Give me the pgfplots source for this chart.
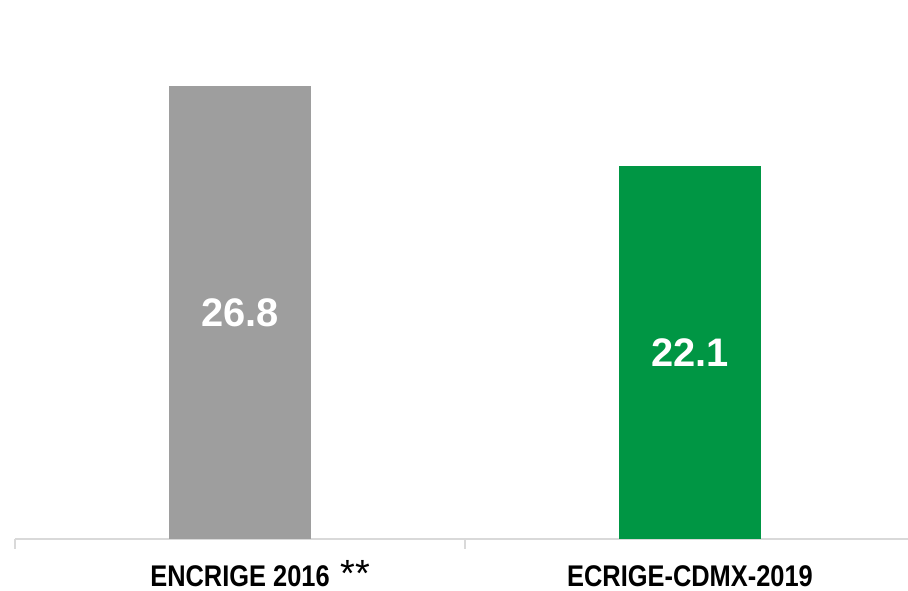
\documentclass[border=0pt]{standalone}
\usepackage{pgfplots}
\pgfplotsset{compat=1.18}
\usepackage{fontspec}
\setmainfont{Liberation Sans}
\newfontfamily\narrowfont[FakeStretch=0.85]{Liberation Sans}
\definecolor{bargray}{HTML}{9E9E9E}
\definecolor{bargreen}{HTML}{009644}
\definecolor{axisgray}{HTML}{D9D9D9}
\begin{document}
\begin{tikzpicture}[x=1bp,y=1bp]
\useasboundingbox (0,0) rectangle (908,591);
\begin{axis}[
  at={(15bp,52bp)}, anchor=south west,
  scale only axis, width=900bp, height=539bp,
  xmin=-0.5, xmax=1.5, ymin=0, ymax=31.9,
  axis x line=bottom, axis y line=none,
  axis line style={-, draw=axisgray, line width=1.2bp},
  xtick={0,1},
  xticklabels={ENCRIGE 2016\rlap{\normalfont\fontsize{38}{38}\selectfont\ *\kern1bp*}, ECRIGE-CDMX-2019},
  major tick length=0pt,
  xticklabel style={font=\narrowfont\bfseries\fontsize{30}{34}\selectfont, text=black, anchor=base, inner sep=0pt, yshift=-48bp},
  extra x ticks={-0.5,0.5,1.5},
  extra x tick labels={},
  extra x tick style={major tick length=10bp, tick align=outside, tick style={draw=axisgray, line width=1.2bp}},
  ybar, bar width=142bp, bar shift=0pt,
  visualization depends on={y \as \rawy},
  nodes near coords,
  every node near coord/.append style={font=\bfseries\fontsize{40}{40}\selectfont, text=white, anchor=center, shift={(axis direction cs:0,-\rawy/2)}},
  point meta=explicit symbolic,
  clip=false,
]
\addplot[fill=bargray, draw=none] coordinates {(0,26.8) [26.8]};
\addplot[fill=bargreen, draw=none] coordinates {(1,22.1) [22.1]};
\end{axis}
\end{tikzpicture}
\end{document}
